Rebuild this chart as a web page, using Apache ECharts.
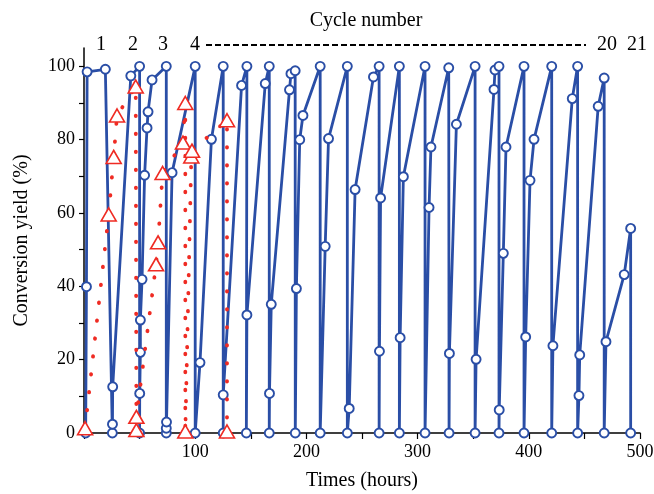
<!DOCTYPE html>
<html>
<head>
<meta charset="utf-8">
<script src="https://cdn.jsdelivr.net/npm/echarts@6/dist/echarts.min.js"></script>
<style>
  html, body { margin: 0; padding: 0; background: #fff; }
  #main { width: 654px; height: 494px; }
</style>
</head>
<body>
<div id="main"></div>
<script>
// blue sawtooth, one row per cycle (hours / conversion %)
var cycleHours = [
  [1.5, 2.2, 2.8, 19.2],
  [25.5, 25.6, 25.8, 42.1, 50],
  [50, 50.1, 50.7, 50.7, 52.2, 54.5, 56.7, 57.6, 61.2, 74],
  [74, 74, 74.2, 79.2, 100],
  [100, 104.3, 114.6, 125.2],
  [125.2, 125.2, 141.7, 146.5],
  [146, 146.5, 163, 166.6],
  [166.6, 166.8, 168.4, 184.8, 186.1, 189.9],
  [190, 191, 194, 196.9, 212.4],
  [212.4, 216.9, 219.9, 236.8],
  [236.8, 238.5, 243.8, 260.3, 265.4],
  [265.4, 265.7, 266.7, 283.6],
  [283.6, 284.3, 287.2, 306.7],
  [306.7, 310.3, 312, 328],
  [328.3, 328.6, 334.9, 351.7],
  [351.7, 352.6, 368.7, 369.6, 373.2],
  [373.2, 373.4, 377.1, 379.5, 395.7],
  [395.7, 397.2, 401.1, 404.7, 420.6],
  [420.6, 421.7, 439.1, 443.9],
  [443.9, 445.1, 445.8, 462.4, 467.8],
  [467.8, 469.4, 485.8, 491.6, 491.6]
];
var cycleYield = [
  [0, 39.9, 98.5, 99.2],
  [0, 2.4, 12.6, 97.4, 100],
  [0, 10.8, 22, 30.8, 41.9, 70.3, 83.2, 87.6, 96.3, 100],
  [0, 1.3, 3, 71, 100],
  [0, 19.2, 80.1, 100],
  [0, 10.4, 94.8, 100],
  [0, 32.2, 95.3, 100],
  [0, 10.8, 35.1, 93.6, 98, 98.8],
  [0, 39.4, 80, 86.6, 100],
  [0, 50.9, 80.3, 100],
  [0, 6.7, 66.4, 97.1, 100],
  [0, 22.3, 64.1, 100],
  [0, 26, 69.9, 100],
  [0, 61.5, 78, 99.6],
  [0, 21.7, 84.2, 100],
  [0, 20.1, 93.7, 99, 100],
  [0, 6.3, 49, 78, 100],
  [0, 26.2, 68.9, 80.1, 100],
  [0, 23.8, 91.2, 100],
  [0, 10.2, 21.3, 89.1, 96.8],
  [0, 24.9, 43.2, 55.8, 0]
];

// red dotted run with triangles
var redHours = [1, 22.2, 26.7, 29.7, 46.5, 47.1, 47.1, 64.8, 66.6, 70.7, 89, 91.1, 91.1, 96.5, 97.1, 128.6, 128.6];
var redYield = [1.3, 59.6, 75.3, 86.6, 94.5, 0.8, 4.4, 46, 52, 70.9, 79.2, 90, 0.4, 75.4, 77, 85.3, 0.4];

var xTicks = [0, 50, 100, 150, 200, 250, 300, 350, 400, 450, 500];
var xLabels = [100, 200, 300, 400, 500];
var yTicks = [0, 10, 20, 30, 40, 50, 60, 70, 80, 90, 100];
var yLabels = [0, 20, 40, 60, 80, 100];
var cycleLabels = ['1', '2', '3', '4', '20', '21'];

var BLUE = '#2a4ea6';
var RED = '#ef2b23';
var FONT = '"Liberation Serif", "DejaVu Serif", serif';

var blueData = [];
cycleHours.forEach(function (row, i) {
  row.forEach(function (h, j) { blueData.push([h, cycleYield[i][j]]); });
});
var redData = redHours.map(function (h, i) { return [h, redYield[i]]; });

var myChart = echarts.init(document.getElementById('main'));

// label positions along the top
var labelX = [101, 133, 163, 195, 607, 637];
var graphics = cycleLabels.map(function (t, i) {
  return {
    type: 'text',
    style: { text: t, x: labelX[i], y: 45, font: '20px ' + FONT, fill: '#000',
             textAlign: 'center', textVerticalAlign: 'middle' }
  };
});
graphics.push({
  type: 'text',
  style: { text: 'Cycle number', x: 366, y: 21, font: '20px ' + FONT, fill: '#000',
           textAlign: 'center', textVerticalAlign: 'middle' }
});
graphics.push({
  type: 'line',
  shape: { x1: 206, y1: 45, x2: 586, y2: 45 },
  style: { stroke: '#000', lineWidth: 2, lineDash: [6, 3] }
});

var option = {
  animation: false,
  backgroundColor: '#fff',
  grid: { left: 84, right: 14, top: 48, bottom: 61, outerBoundsMode: 'none' },
  xAxis: {
    type: 'value', min: 0, max: 500,
    name: 'Times (hours)', nameLocation: 'middle', nameGap: 38,
    nameTextStyle: { fontFamily: FONT, fontSize: 20, color: '#000' },
    axisLine: { lineStyle: { color: '#000', width: 1.5 } },
    axisTick: { show: true, length: 6, customValues: xTicks, lineStyle: { color: '#000', width: 1.2 } },
    axisLabel: { customValues: xLabels, margin: 10, fontFamily: FONT, fontSize: 18, color: '#000' },
    splitLine: { show: false }
  },
  yAxis: {
    type: 'value', min: 0, max: 105,
    name: 'Conversion yield (%)', nameLocation: 'middle', nameGap: 52, nameRotate: 90,
    nameTextStyle: { fontFamily: FONT, fontSize: 20, color: '#000' },
    axisLine: { show: true, lineStyle: { color: '#000', width: 1.5 } },
    axisTick: { show: true, length: 5, customValues: yTicks, lineStyle: { color: '#000', width: 1.2 } },
    axisLabel: { customValues: yLabels, margin: 9, fontFamily: FONT, fontSize: 18, color: '#000' },
    splitLine: { show: false }
  },
  graphic: graphics,
  series: [
    {
      type: 'line', data: blueData, clip: false,
      symbol: 'circle', symbolSize: 9,
      lineStyle: { color: BLUE, width: 2.8 },
      itemStyle: { color: '#fff', borderColor: BLUE, borderWidth: 1.9 },
      z: 2
    },
    {
      type: 'line', data: redData, clip: false,
      symbol: 'triangle', symbolSize: [15, 13],
      lineStyle: { color: RED, width: 3.8, type: [0.5, 17.5], cap: 'round' },
      itemStyle: { color: '#fff', borderColor: RED, borderWidth: 1.6 },
      z: 3
    }
  ]
};

option && myChart.setOption(option);
</script>
</body>
</html>
